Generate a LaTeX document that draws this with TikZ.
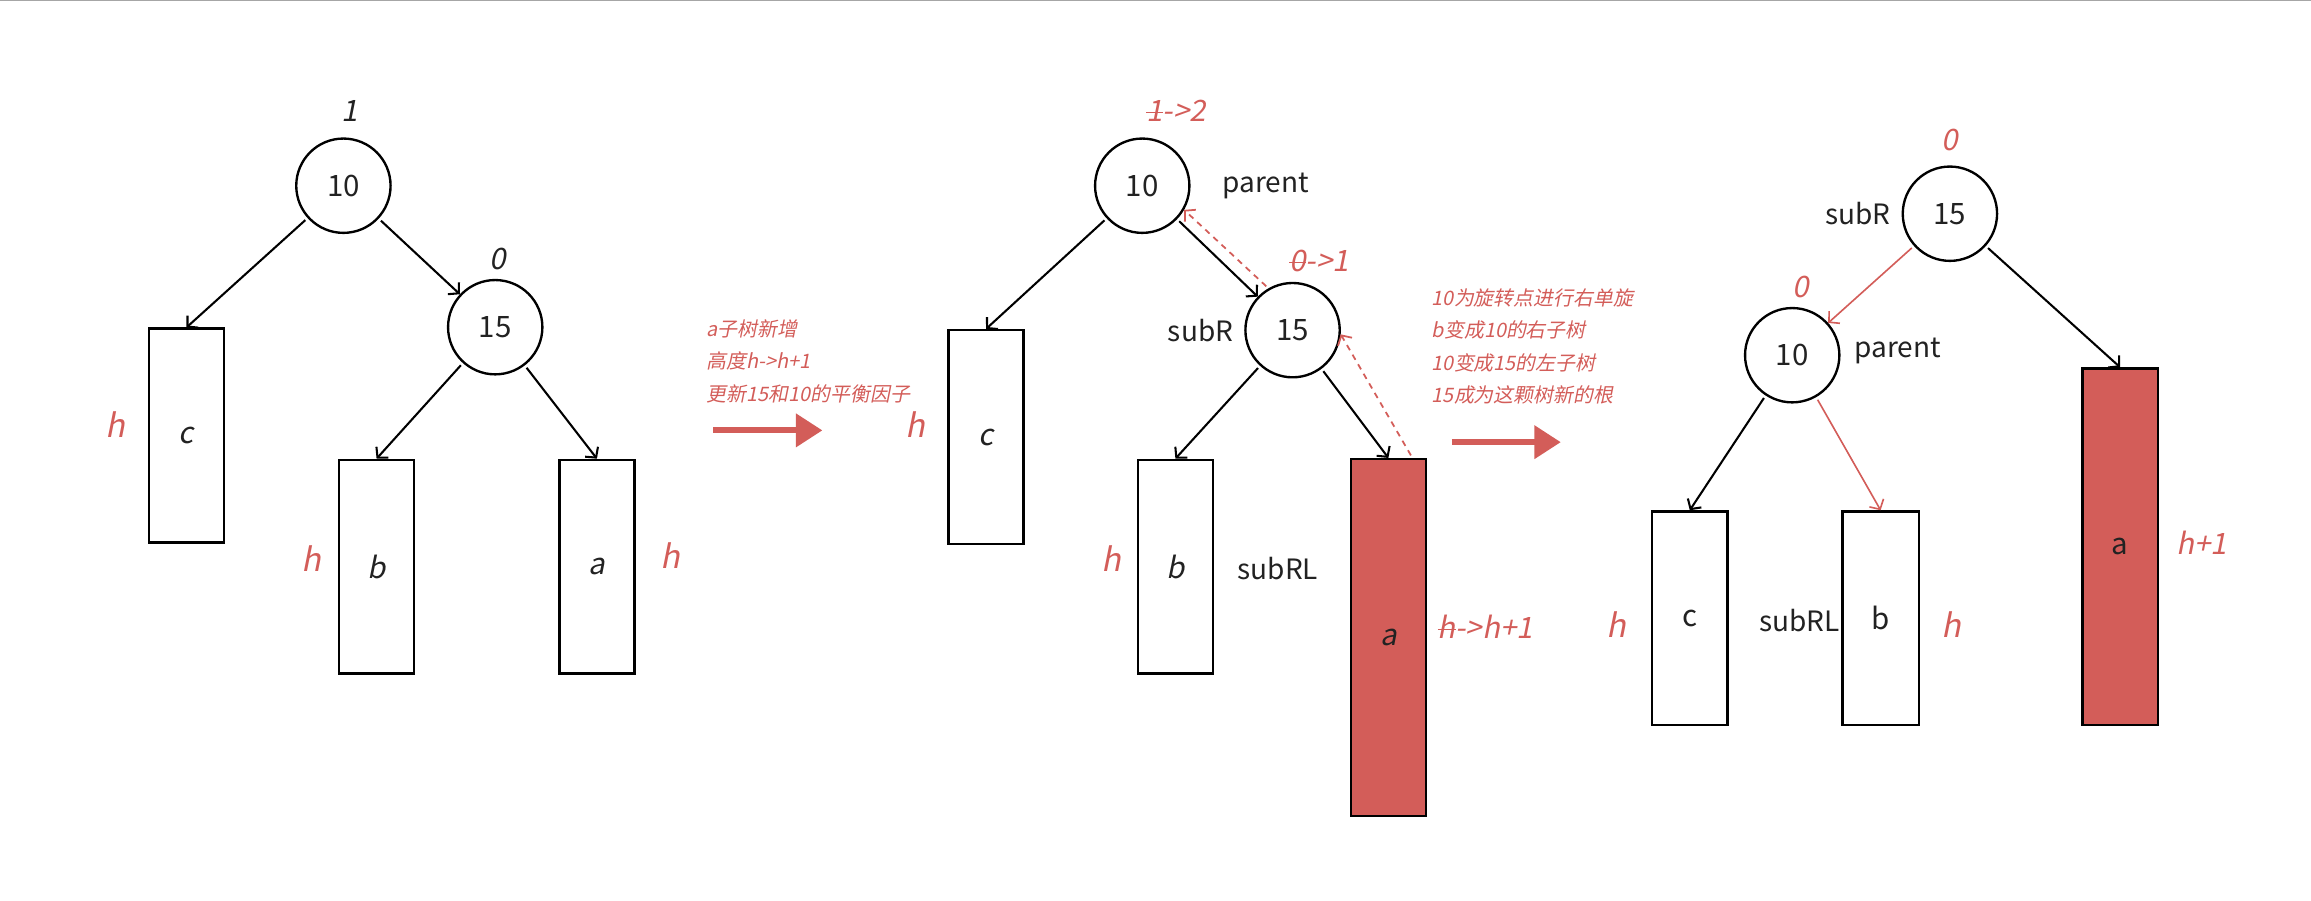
\documentclass[tikz,border=0pt]{standalone}
\usepackage{fontspec}
\usetikzlibrary{arrows.meta,positioning}
\setmainfont{Noto Sans CJK SC}
\newfontfamily\slfont{Noto Sans CJK SC}[FakeSlant=0.2]
\definecolor{avlred}{HTML}{D35D59}
\definecolor{ink}{HTML}{222222}
\newcommand\strk[1]{\setbox0\hbox{#1}\rlap{\rule[0.5ex]{\wd0}{0.07ex}}\box0}

\begin{document}
\begin{tikzpicture}[x=1pt,y=-1pt,
    bnode/.style={circle,draw=black,line width=1.6pt,minimum size=64pt,inner sep=0pt,text=ink,font=\fontsize{20}{24}\selectfont},
    subtree/.style={rectangle,draw=black,line width=1.6pt,minimum width=51pt,minimum height=145pt,inner sep=0pt,text=ink,font=\fontsize{20}{24}\selectfont},
    grown/.style={subtree,fill=avlred,minimum height=242pt},
    link/.style={-{Straight Barb[length=5pt,width=11pt]},line width=1.4pt,shorten <=2pt},
    redlink/.style={link,draw=avlred,line width=1.1pt},
    backlink/.style={redlink,dash pattern=on 4pt off 3.5pt,line width=1.2pt},
    bigarrow/.style={-{Triangle[length=18pt,width=22pt]},line width=4pt,draw=avlred},
    hlbl/.style={text=avlred,font=\slfont\fontsize{22}{24}\selectfont},
    bflbl/.style={text=ink,font=\slfont\fontsize{20}{24}\selectfont},
    redbf/.style={bflbl,text=avlred},
    namelbl/.style={text=ink,font=\fontsize{19}{24}\selectfont},
    note/.style={text=avlred,align=left,anchor=west,font=\slfont\fontsize{13.5}{22}\selectfont}]

    % Fix the page and draw the top edge line
    \useasboundingbox (0,0) rectangle (1568,611);
    \draw[gray!70,line width=1pt] (0,0.5) -- (1568,0.5);

    % First tree: before the insertion
    \node[bnode] (p1) at (233,126) {10};
    \node[bnode] (s1) at (336,222) {15};
    \node[subtree] (c1) at (126.5,295.5) {\slfont c};
    \node[subtree] (b1) at (255.5,384.5) {\slfont b};
    \node[subtree] (a1) at (405,384.5) {\slfont a};
    \node[bflbl] (bf1) at (237,75) {1};
    \node[bflbl] (bf1s) at (338,176) {0};
    \node[hlbl] (h1c) at (78,288) {h};
    \node[hlbl] (h1b) at (211,379) {h};
    \node[hlbl] (h1a) at (455,377) {h};
    \draw[link] (p1) -- (c1.north);
    \draw[link] (p1) -- (s1);
    \draw[link] (s1) -- (b1.north);
    \draw[link] (s1) -- (a1.north);

    % First step: note and arrow
    \node[note] (t1) at (476,245) {a子树新增\\高度h->h+1\\更新15和10的平衡因子};
    \coordinate (g1s) at (484,292);
    \coordinate (g1e) at (558,292);
    \draw[bigarrow] (g1s) -- (g1e);

    % Second tree: a has grown by one
    \node[bnode] (p2) at (775,126) {10};
    \node[bnode] (s2) at (877,224) {15};
    \node[subtree] (c2) at (669,296.5) {\slfont c};
    \node[subtree] (b2) at (797.5,384.5) {\slfont b};
    \node[grown] (a2) at (942,432.5) {\slfont a};
    \node[redbf] (bf2) at (798,75) {\strk{1}->2};
    \node[redbf] (bf2s) at (895,177) {\strk{0}->1};
    \node[namelbl,right=18pt of p2] (par2) {parent};
    \node[namelbl,left=4pt of s2] (sr2) {subR};
    \node[namelbl] (srl2) at (867,386) {subRL};
    \node[hlbl] (h2c) at (621,288) {h};
    \node[hlbl] (h2b) at (754,379) {h};
    \node[redbf,anchor=west] (h2a) at (972,425) {\strk{h}->h+1};
    \draw[link] (p2) -- (c2.north);
    \draw[link] (p2) -- (s2);
    \draw[link] (s2) -- (b2.north);
    \draw[link] (s2) -- (a2.north);
    \coordinate[xshift=-10pt] (a2up) at (a2.north east);
    \draw[backlink] (a2up) -- (s2.-5);
    \draw[backlink] (s2.120) -- (p2.-30);

    % Second step: note and arrow
    \node[note] (t2) at (968,235) {10为旋转点进行右单旋\\b变成10的右子树\\10变成15的左子树\\15成为这颗树新的根};
    \coordinate (g2s) at (985,300);
    \coordinate (g2e) at (1059,300);
    \draw[bigarrow] (g2s) -- (g2e);

    % Third tree: after the left rotation
    \node[bnode] (s3) at (1323,145) {15};
    \node[bnode] (p3) at (1216,241) {10};
    \node[subtree] (c3) at (1146.5,419.5) {c};
    \node[subtree,minimum width=52pt] (b3) at (1276,419.5) {b};
    \node[grown] (a3) at (1438.5,371) {a};
    \node[redbf] (bf3) at (1323,95) {0};
    \node[redbf] (bf3p) at (1222,195) {0};
    \node[namelbl,left=4pt of s3] (sr3) {subR};
    \node[namelbl,right=6pt of p3,yshift=3pt] (par3) {parent};
    \node[namelbl] (srl3) at (1221,421) {subRL};
    \node[hlbl] (h3c) at (1097,424) {h};
    \node[hlbl] (h3b) at (1324,424) {h};
    \node[redbf] (h3a) at (1494,368) {h+1};
    \draw[redlink] (s3) -- (p3);
    \draw[link] (s3) -- (a3.north);
    \draw[link] (p3) -- (c3.north);
    \draw[redlink] (p3) -- (b3.north);
\end{tikzpicture}
\end{document}
